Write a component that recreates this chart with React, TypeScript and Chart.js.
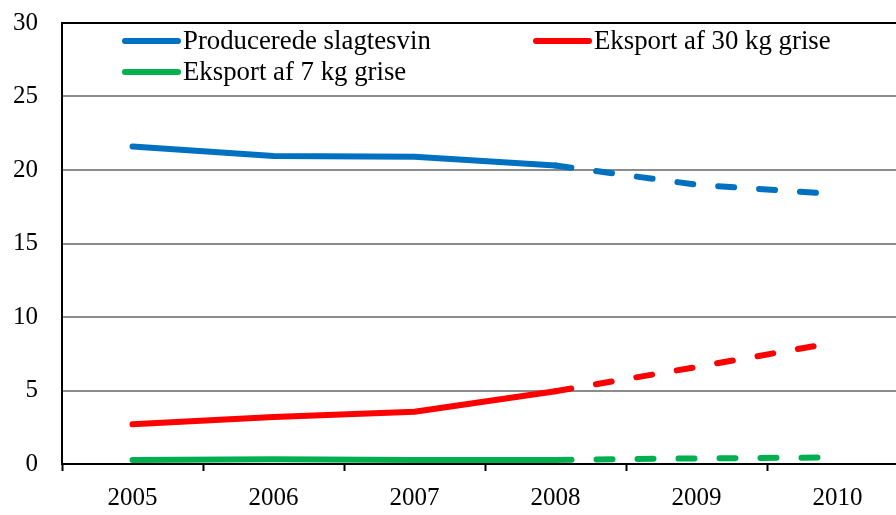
import React, { useEffect, useRef } from "react";
import { Chart, registerables } from "chart.js";

Chart.register(...registerables);

const years = ["2005", "2006", "2007", "2008", "2009", "2010"];
const slagtesvin = [21.6, 20.95, 20.9, 20.3, 19.0, 18.35];
const eksport30 = [2.7, 3.2, 3.55, 4.95, 6.6, 8.3];
const eksport7 = [0.27, 0.33, 0.28, 0.28, 0.38, 0.45];
const lastActual = 3; // index of 2008
const yTicks = [0, 5, 10, 15, 20, 25, 30];

const names = ["Producerede slagtesvin", "Eksport af 30 kg grise", "Eksport af 7 kg grise"];
const colors = ["#0070C0", "#FF0000", "#00B050"];
const FONT = "'Liberation Serif', 'Times New Roman', serif";

function actual(arr: number[]) {
  return arr.map((v, i) => (i <= lastActual ? v : null));
}
function forecast(arr: number[]) {
  return arr.map((v, i) => (i >= lastActual ? v : null));
}

const legendPlugin = {
  id: "customLegend",
  afterDraw(chart: any) {
    const ctx = chart.ctx;
    const items = [
      { x: 125, y: 41, i: 0 },
      { x: 536, y: 41, i: 1 },
      { x: 125, y: 72, i: 2 },
    ];
    ctx.save();
    items.forEach((it) => {
      ctx.strokeStyle = colors[it.i];
      ctx.lineWidth = 6;
      ctx.lineCap = "round";
      ctx.setLineDash([]);
      ctx.beginPath();
      ctx.moveTo(it.x, it.y);
      ctx.lineTo(it.x + 53, it.y);
      ctx.stroke();
      ctx.fillStyle = "#000";
      ctx.font = `26.8px ${FONT}`;
      ctx.textBaseline = "middle";
      ctx.textAlign = "left";
      ctx.fillText(names[it.i], it.x + 58, it.y + 1);
    });
    ctx.restore();
  },
};

export default function App() {
  const ref = useRef<HTMLCanvasElement>(null);
  useEffect(() => {
    const series = [slagtesvin, eksport30, eksport7];
    const datasets: any[] = [];
    series.forEach((s, i) => {
      datasets.push({
        label: names[i],
        data: forecast(s),
        borderColor: colors[i],
        borderWidth: 6,
        borderDash: [16, 25],
        borderCapStyle: "round",
        pointRadius: 0,
        tension: 0,
        spanGaps: false,
      });
      datasets.push({
        label: names[i],
        data: actual(s),
        borderColor: colors[i],
        borderWidth: 6,
        borderCapStyle: "round",
        borderJoinStyle: "round",
        pointRadius: 0,
        tension: 0,
        spanGaps: false,
      });
    });
    const chart = new Chart(ref.current!, {
      type: "line",
      data: { labels: years, datasets },
      plugins: [legendPlugin],
      options: {
        animation: false,
        responsive: false,
        maintainAspectRatio: false,
        layout: { padding: { top: 23, right: 2, left: 0, bottom: 0 } },
        plugins: { legend: { display: false }, tooltip: { enabled: false } },
        scales: {
          x: {
            offset: true,
            grid: {
              offset: true,
              drawOnChartArea: false,
              drawTicks: true,
              tickLength: 7,
              tickColor: "#000",
              tickWidth: 2,
            },
            border: { color: "#000", width: 2 },
            ticks: {
              color: "#000",
              font: { family: FONT, size: 25 },
              padding: 12,
              maxRotation: 0,
            },
            afterFit(scale: any) {
              scale.height = 51;
              scale.paddingLeft = 0;
              scale.paddingRight = 0;
            },
          },
          y: {
            min: 0,
            max: 30,
            afterBuildTicks(scale: any) {
              scale.ticks = yTicks.map((v) => ({ value: v }));
            },
            grid: {
              color: (c: any) => (c.tick && (c.tick.value === 30 || c.tick.value === 0) ? "#000" : "#8c8c8c"),
              lineWidth: 2,
              drawTicks: false,
            },
            border: { color: "#000", width: 2 },
            ticks: {
              color: "#000",
              font: { family: FONT, size: 25 },
              padding: 24,
            },
            afterFit(scale: any) {
              scale.width = 62;
              scale.paddingTop = 0;
              scale.paddingBottom = 0;
            },
          },
        },
      },
    });
    return () => chart.destroy();
  }, []);
  return (
    <div
      style={{
        position: "absolute",
        left: 0,
        top: 0,
        width: 896,
        height: 515,
        overflow: "hidden",
        background: "#fff",
      }}
    >
      <canvas ref={ref} width={910} height={515} style={{ display: "block", width: 910, height: 515 }} />
    </div>
  );
}
